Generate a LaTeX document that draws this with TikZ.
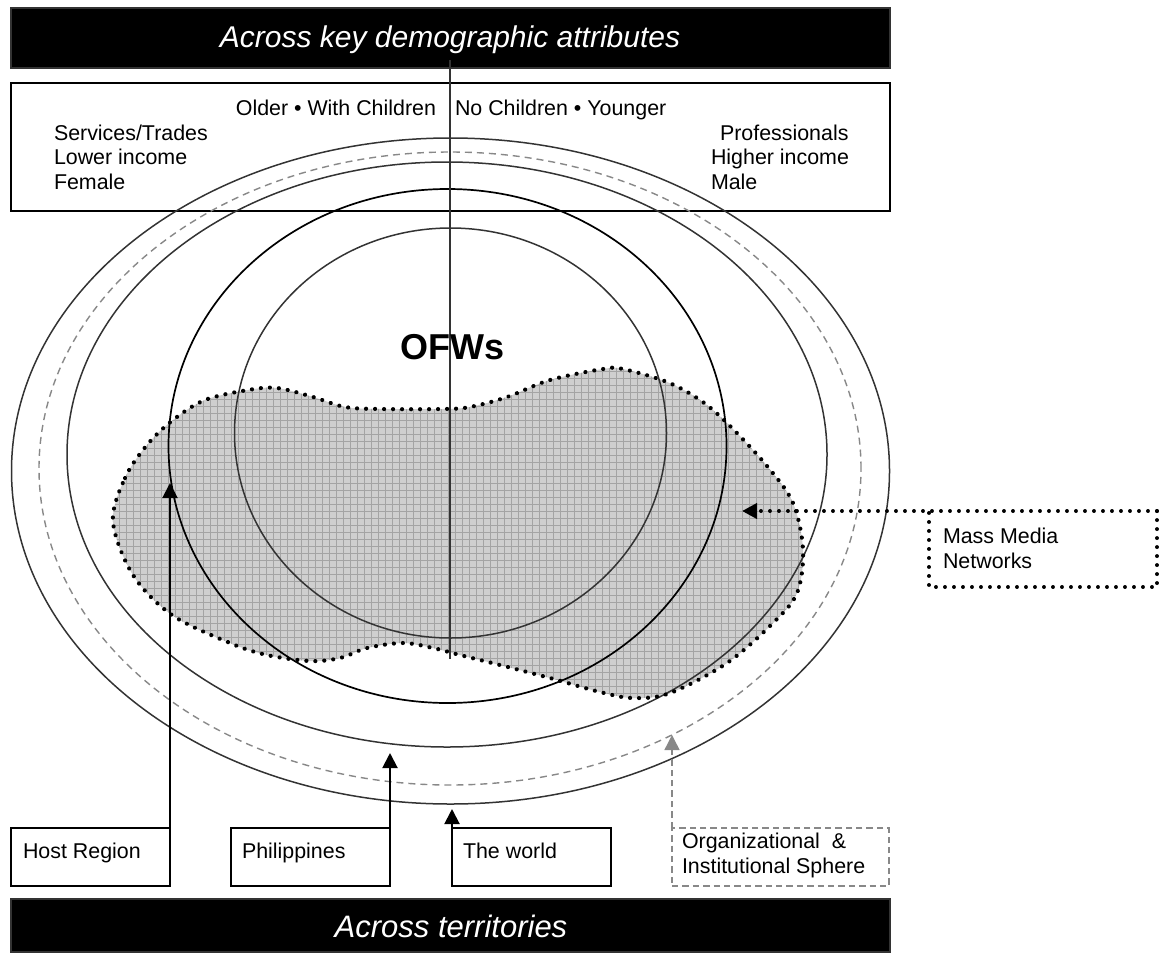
\documentclass[tikz,border=0pt]{standalone}
\usepackage{fontspec}
\setmainfont{Liberation Sans}
\usetikzlibrary{arrows.meta,decorations.markings}
\definecolor{lineg}{HTML}{333333}
\definecolor{dashg}{HTML}{888888}
\definecolor{blobfill}{HTML}{CFCFCF}
\definecolor{gridg}{HTML}{A4A4A4}
\begin{document}
\begin{tikzpicture}[x=0.5pt,y=-0.5pt,
  every node/.style={inner sep=0pt, outer sep=0pt},
  txt/.style={font=\fontsize{10.7}{12.8}\selectfont, anchor=base west},
  bannerbox/.style={draw=lineg, fill=black, line width=0.6pt, minimum width=439.5pt},
  bannertxt/.style={text=white, anchor=base},
  plainbox/.style={draw=black, line width=0.75pt},
  ring/.style={draw=lineg, line width=0.75pt},
  dashring/.style={draw=dashg, line width=0.7pt, dash pattern=on 3.5pt off 2.5pt},
  dotline/.style={line width=1.9pt, line cap=round, dash pattern=on 0.05pt off 4.45pt},
  dotmarks/.style={postaction={decorate}, decoration={markings, mark=between positions 0 and 1 step 4.5pt with {\fill[black] (0,0) circle (1.05pt);}}},
  uparrow/.style={draw=black, line width=1pt, -{Triangle[length=7.5pt,width=7.5pt]}},
  orgline/.style={draw=dashg, line width=0.75pt, dash pattern=on 3.2pt off 2pt},
]
\useasboundingbox (0,0) rectangle (1159,953);

% top banner
\node[bannerbox, minimum height=30pt] (topbanner) at (450.5,38) {};
\node[bannertxt, font=\itshape\fontsize{15}{18}\selectfont] (toptitle) at (450,47) {Across key demographic attributes};

% attribute box
\node[plainbox, minimum width=439.5pt, minimum height=64pt] (attrbox) at (450.5,147) {};

% blob fill and grid
\begin{scope}
\clip plot[smooth cycle, tension=0.55] coordinates {(113,522) (125,478) (147,445) (173,420) (205,400) (248,390) (277,388) (313,397) (345,407) (380,409) (443,409) (470,407) (507,397) (550,380) (603,369) (623,369) (667,382) (700,400) (728,424) (767,466) (793,503) (803,550) (797,593) (773,623) (727,663) (670,693) (633,698) (600,692) (550,678) (500,665) (460,655) (433,648) (403,643) (367,648) (340,658) (310,661) (267,655) (230,643) (172,615) (133,575)};
\fill[blobfill] (100,350) rectangle (820,710);
\draw[gridg, line width=0.35pt, step=3.5pt] (100,350) grid (820,710);
\end{scope}

% rings
\draw[ring] (450.5,471) ellipse [x radius=219.5pt, y radius=166.5pt];
\draw[dashring] (450,468.5) ellipse [x radius=205.5pt, y radius=158.25pt];
\draw[ring] (447,454.5) ellipse [x radius=190pt, y radius=146.25pt];
\draw[draw=black, line width=0.85pt] (447.5,446) ellipse [x radius=139.5pt, y radius=128.5pt];
\draw[ring] (450.5,433) ellipse [x radius=108pt, y radius=102.5pt];

% axis
\coordinate (axtop) at (450,60);
\coordinate (axbot) at (450,659);
\draw[draw=lineg, line width=0.75pt] (axtop) -- (axbot);

% blob outline (dots)
\path[dotmarks] plot[smooth cycle, tension=0.55] coordinates {(113,522) (125,478) (147,445) (173,420) (205,400) (248,390) (277,388) (313,397) (345,407) (380,409) (443,409) (470,407) (507,397) (550,380) (603,369) (623,369) (667,382) (700,400) (728,424) (767,466) (793,503) (803,550) (797,593) (773,623) (727,663) (670,693) (633,698) (600,692) (550,678) (500,665) (460,655) (433,648) (403,643) (367,648) (340,658) (310,661) (267,655) (230,643) (172,615) (133,575)};

\node[font=\bfseries\fontsize{18}{20}\selectfont] (ofw) at (452,347.5) {OFWs};

% attribute texts
\node[txt, anchor=base east] (older) at (436,115) {Older • With Children};
\node[txt] (younger) at (455,115) {No Children • Younger};
\node[txt] (serv) at (54,140) {Services/Trades};
\node[txt] (lowinc) at (54,164.5) {Lower income};
\node[txt] (female) at (54,189) {Female};
\node[txt] (prof) at (720,140) {Professionals};
\node[txt] (highinc) at (711,164.5) {Higher income};
\node[txt] (male) at (711,189) {Male};

% bottom boxes
\node[plainbox, minimum width=79.5pt, minimum height=29pt] (host) at (90.5,857) {};
\node[txt] (hosttxt) at (23,858.5) {Host Region};
\node[plainbox, minimum width=79.5pt, minimum height=29pt] (phil) at (310.5,857) {};
\node[txt] (philtxt) at (242,858.5) {Philippines};
\node[plainbox, minimum width=79.5pt, minimum height=29pt] (world) at (531.5,857) {};
\node[txt] (worldtxt) at (463,858.5) {The world};
\node[orgline, minimum width=108.5pt, minimum height=29pt] (org) at (780.5,857) {};
\node[txt] (orgtxt1) at (682,848.5) {Organizational~~\&};
\node[txt] (orgtxt2) at (682,873) {Institutional Sphere};

% mass media box
\node[minimum width=114pt, minimum height=38pt] (mass) at (1043,549) {};
\draw[dotline] (mass.north east) -- (mass.south east) -- (mass.south west) -- (mass.north west);
\node[txt] (masstxt1) at (943,543.5) {Mass Media};
\node[txt] (masstxt2) at (943,568) {Networks};

% arrows
\coordinate (hosttip) at (170,483);
\coordinate (philtip) at (390,753);
\coordinate (worldtip) at (452,809);
\coordinate (orgtip) at (672,735);
\coordinate (masstip) at (742,511);
\draw[uparrow] (host.north east) -- (hosttip);
\draw[uparrow] (phil.north east) -- (philtip);
\draw[uparrow] (world.north west) -- (worldtip);
\draw[orgline, -{Triangle[length=7.5pt,width=7.5pt]}] (org.north west) -- (orgtip);
\draw[dotline, -{Triangle[length=7.5pt,width=7.5pt]}] (mass.north east) -- (masstip);

% bottom banner
\node[bannerbox, minimum height=26.5pt] (botbanner) at (450.5,925.5) {};
\node[bannertxt, font=\itshape\fontsize{15.5}{18}\selectfont] (bottitle) at (451,937) {Across territories};
\end{tikzpicture}
\end{document}
